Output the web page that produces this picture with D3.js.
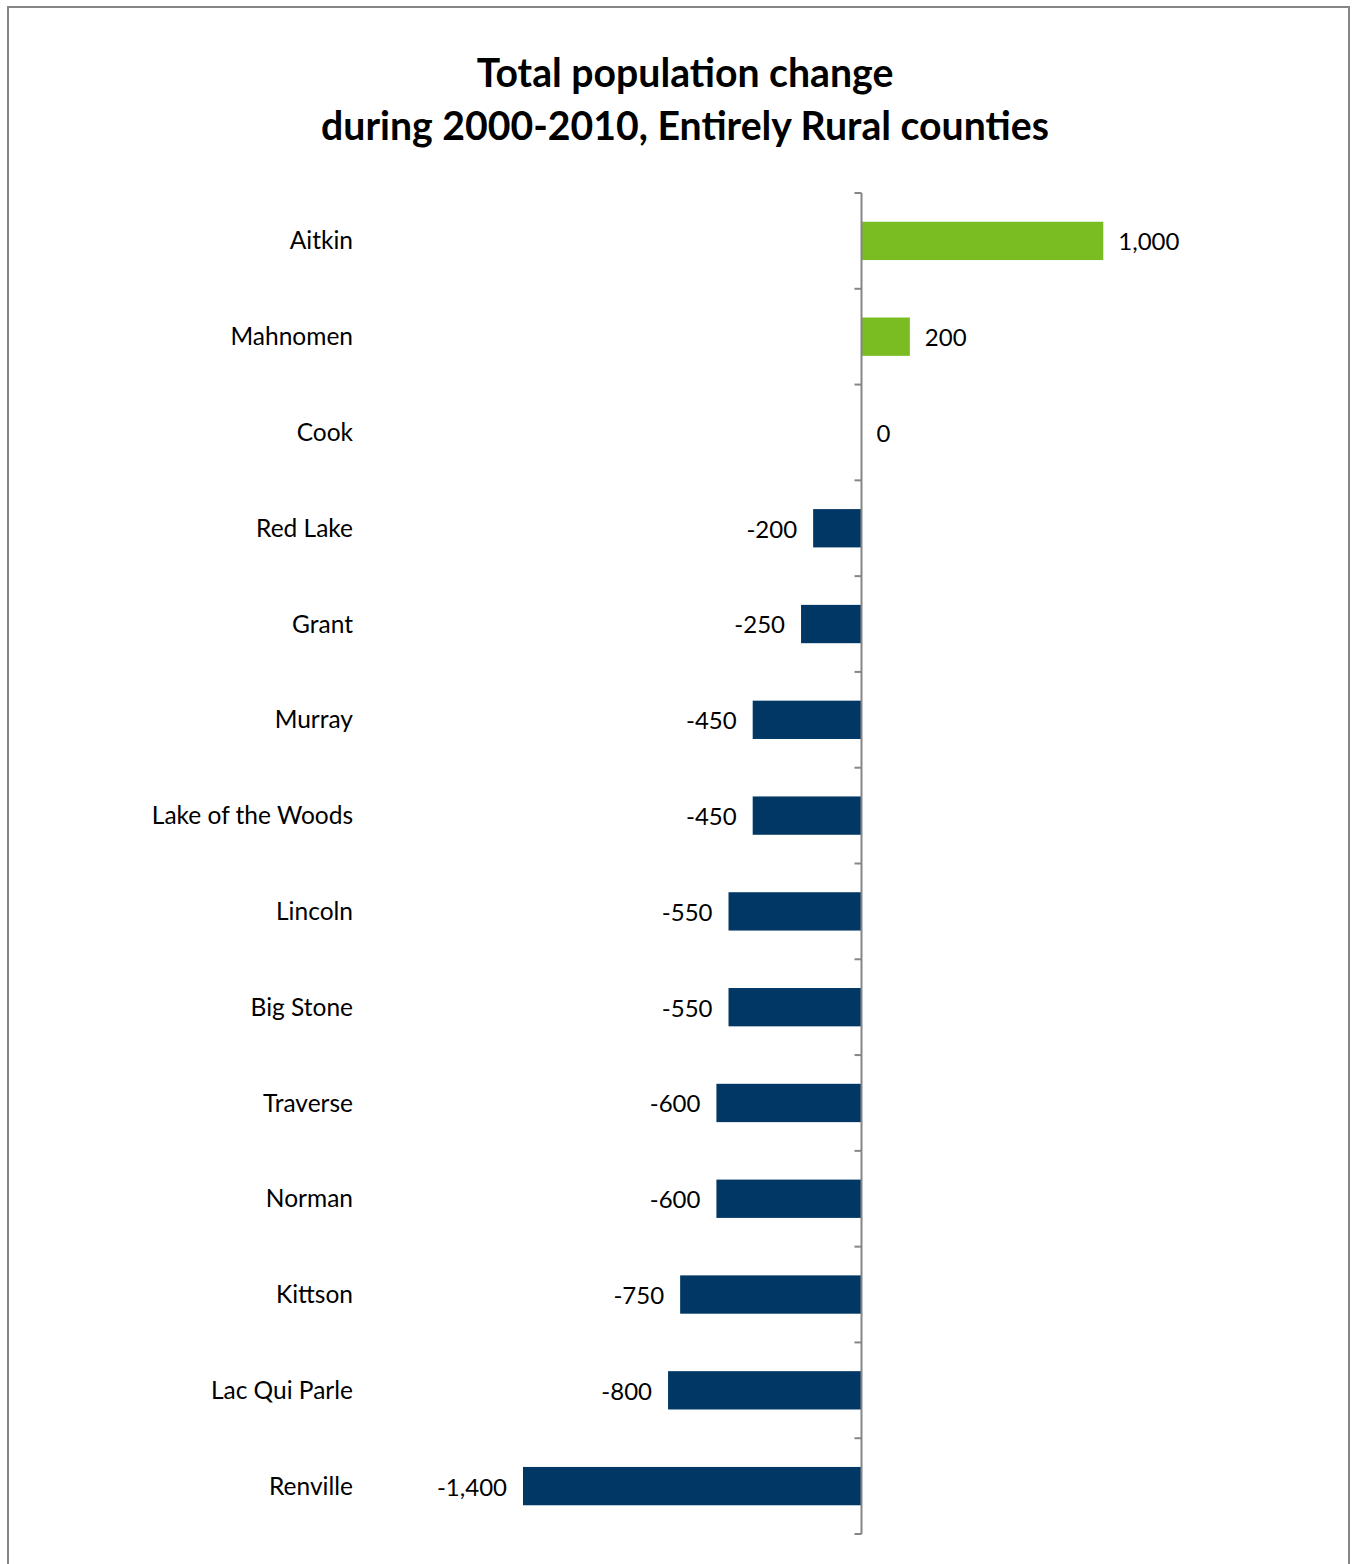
<!DOCTYPE html>
<html>
<head>
<meta charset="utf-8">
<script src="https://cdn.jsdelivr.net/npm/d3@7"></script>
<style>
  html, body { margin: 0; padding: 0; background: #fff; }
  svg { display: block; }
</style>
</head>
<body>
<svg id="chart" width="1353" height="1564"></svg>
<script>
const titleLines = ["Total population change", "during 2000-2010, Entirely Rural counties"];
const counties = ["Aitkin", "Mahnomen", "Cook", "Red Lake", "Grant", "Murray", "Lake of the Woods",
  "Lincoln", "Big Stone", "Traverse", "Norman", "Kittson", "Lac Qui Parle", "Renville"];
const changes = [1000, 200, 0, -200, -250, -450, -450, -550, -550, -600, -600, -750, -800, -1400];

const FONT = "Lato, 'Open Sans', sans-serif";
const svg = d3.select("#chart");

// outer frame
svg.append("rect")
  .attr("x", 8).attr("y", 7).attr("width", 1341).attr("height", 1600)
  .attr("fill", "none").attr("stroke", "#868686").attr("stroke-width", 2);

// title
svg.append("text")
  .attr("x", 685).attr("y", 0)
  .attr("text-anchor", "middle")
  .attr("font-family", FONT).attr("font-weight", "bold").attr("font-size", 39.2)
  .attr("fill", "#000")
  .selectAll("tspan").data(titleLines).join("tspan")
  .attr("x", 685).attr("y", (d, i) => 87 + i * 53)
  .text(d => d);

const plotTop = 193, plotBottom = 1534;
const zeroX = 861.5, pxPerUnit = 0.2418;
const x = d3.scaleLinear().domain([-1600, 1800]).range([zeroX - 1600 * pxPerUnit, zeroX + 1800 * pxPerUnit]);
const y = d3.scaleBand().domain(counties).range([plotTop, plotBottom]).paddingInner(0.6).paddingOuter(0.3);

// bars
const data = counties.map((c, i) => ({ c, v: changes[i] }));
svg.append("g").selectAll("rect").data(data).join("rect")
  .attr("x", d => x(Math.min(0, d.v)))
  .attr("y", d => y(d.c))
  .attr("width", d => Math.abs(x(d.v) - x(0)))
  .attr("height", y.bandwidth())
  .attr("fill", d => d.v >= 0 ? "#7abd22" : "#003764");

// axis line with ticks between categories
const axisG = svg.append("g").attr("stroke", "#868686").attr("stroke-width", 2).attr("fill", "none");
axisG.append("line").attr("x1", x(0)).attr("x2", x(0)).attr("y1", plotTop).attr("y2", plotBottom);
const step = (plotBottom - plotTop) / counties.length;
const tickYs = d3.range(counties.length + 1).map(i => plotTop + i * step);
axisG.selectAll("line.tick").data(tickYs).join("line").attr("class", "tick")
  .attr("x1", x(0) - 7).attr("x2", x(0)).attr("y1", d => d).attr("y2", d => d);

// category labels
svg.append("g").selectAll("text").data(counties).join("text")
  .attr("x", 353)
  .attr("y", d => y(d) + y.bandwidth() / 2)
  .attr("dy", "0.35em")
  .attr("text-anchor", "end")
  .attr("font-family", FONT).attr("font-size", 24.5).attr("fill", "#000")
  .text(d => d);

// value labels
const fmt = d3.format(",");
svg.append("g").selectAll("text").data(data).join("text")
  .attr("x", d => d.v >= 0 ? x(d.v) + 15 : x(d.v) - 16)
  .attr("y", d => y(d.c) + y.bandwidth() / 2 + 1)
  .attr("dy", "0.35em")
  .attr("text-anchor", d => d.v >= 0 ? "start" : "end")
  .attr("font-family", FONT).attr("font-size", 24).attr("fill", "#000")
  .text(d => fmt(d.v).replace("−", "-"));
</script>
</body>
</html>
